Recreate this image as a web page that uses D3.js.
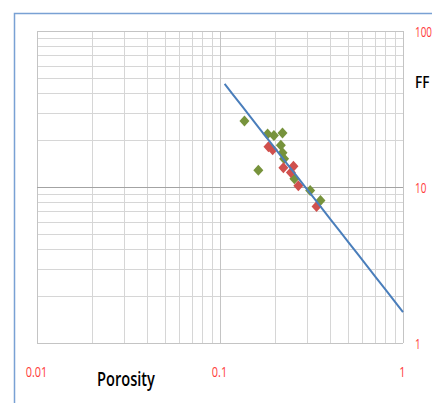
<!DOCTYPE html>
<html>
<head>
<meta charset="utf-8">
<script src="https://cdn.jsdelivr.net/npm/d3@7"></script>
<style>
  body { margin: 0; background: #fff; }
  svg { display: block; }
</style>
</head>
<body>
<svg width="432" height="403"></svg>
<script>
// data (porosity, formation factor)
var greenPorosity = [0.136, 0.182, 0.197, 0.2195, 0.215, 0.2195, 0.224, 0.162, 0.255, 0.311, 0.354];
var greenFF       = [26.5, 21.9, 21.4, 22.2, 18.5, 16.6, 15.2, 12.8, 11.3, 9.5, 8.2];
var redPorosity   = [0.184, 0.194, 0.222, 0.252, 0.244, 0.268, 0.337];
var redFF         = [18.1, 17.3, 13.3, 13.6, 12.4, 10.2, 7.5];

// power trendline FF = a * phi^-m
var trendA = 1.58, trendM = 1.5;
var trendRange = [0.106, 1];

var xTicks = [0.01, 0.1, 1];
var yTicks = [1, 10, 100];

var svg = d3.select('svg');

var x = d3.scaleLog().domain([0.01, 1]).range([37, 403]);
var y = d3.scaleLog().domain([1, 100]).range([343, 31]);

// squeeze a text horizontally (the original font is narrow)
function squeeze(sel, s, anchorX){
  sel.each(function(){
    var t = d3.select(this);
    var ax = anchorX != null ? anchorX : +t.attr('x');
    t.attr('transform', 'translate(' + ax + ',0) scale(' + s + ',1) translate(' + (-ax) + ',0)');
  });
}
function fitWidth(sel, w){
  var len = sel.node().getComputedTextLength();
  squeeze(sel, w / len);
}

// chart border (cropped)
svg.append('path')
    .attr('d', 'M14.5,420 V13.5 H440')
    .attr('fill', 'none')
    .attr('stroke', '#79a1d4')
    .attr('stroke-width', 1.5);

// minor grid
var minorX = [], minorY = [];
[0.01, 0.1].forEach(function(d){
  for (var i = 2; i < 10; i++) minorX.push(d * i);
});
[1, 10].forEach(function(d){
  for (var i = 2; i < 10; i++) minorY.push(d * i);
});

var grid = svg.append('g').attr('shape-rendering', 'crispEdges');

grid.selectAll('.vx').data(minorX).enter().append('line')
    .attr('x1', function(d){ return Math.round(x(d)) + 0.5; })
    .attr('x2', function(d){ return Math.round(x(d)) + 0.5; })
    .attr('y1', y(100)).attr('y2', y(1))
    .attr('stroke', '#d6d6d6');

grid.selectAll('.hy').data(minorY).enter().append('line')
    .attr('y1', function(d){ return Math.round(y(d)) + 0.5; })
    .attr('y2', function(d){ return Math.round(y(d)) + 0.5; })
    .attr('x1', x(0.01)).attr('x2', x(1))
    .attr('stroke', '#d6d6d6');

grid.selectAll('.mx').data(xTicks).enter().append('line')
    .attr('x1', function(d){ return Math.round(x(d)) + 0.5; })
    .attr('x2', function(d){ return Math.round(x(d)) + 0.5; })
    .attr('y1', y(100)).attr('y2', y(1))
    .attr('stroke', '#c4c4c4');

grid.selectAll('.my').data(yTicks).enter().append('line')
    .attr('y1', function(d){ return Math.round(y(d)) + 0.5; })
    .attr('y2', function(d){ return Math.round(y(d)) + 0.5; })
    .attr('x1', x(0.01)).attr('x2', x(1))
    .attr('stroke', function(d){ return d == 10 ? '#a3a3a3' : '#c4c4c4'; });

// tick labels
var xl = svg.selectAll('.xl').data(xTicks).enter().append('text')
    .attr('x', function(d){ return x(d) - 0.5; })
    .attr('y', 372)
    .attr('dy', '0.36em')
    .attr('text-anchor', 'middle')
    .attr('font-family', 'Open Sans, sans-serif')
    .attr('font-size', 14)
    .attr('fill', '#ff3b3b')
    .text(function(d){ return d; });
squeeze(xl, 0.78);

var yl = svg.selectAll('.yl').data(yTicks).enter().append('text')
    .attr('x', 415)
    .attr('y', function(d){ return y(d) + 0.5; })
    .attr('dy', '0.36em')
    .attr('font-family', 'Open Sans, sans-serif')
    .attr('font-size', 14)
    .attr('fill', '#ff3b3b')
    .text(function(d){ return d; });
squeeze(yl, 0.71, 415);

// axis titles
var ff = svg.append('text')
    .attr('x', 415).attr('y', 82).attr('dy', '0.36em')
    .attr('font-family', 'Open Sans, sans-serif')
    .attr('font-size', 17)
    .attr('font-weight', 600)
    .attr('fill', '#000')
    .text('FF');
fitWidth(ff, 14.5);

var por = svg.append('text')
    .attr('x', 97).attr('y', 379).attr('dy', '0.36em')
    .attr('font-family', 'Open Sans, sans-serif')
    .attr('font-size', 19.5)
    .attr('font-weight', 600)
    .attr('fill', '#000')
    .text('Porosity');
fitWidth(por, 58);

// markers
function diamond(px, py){
  return 'M' + px + ',' + (py - 5.5) + 'L' + (px + 5) + ',' + py +
         'L' + px + ',' + (py + 5.5) + 'L' + (px - 5) + ',' + py + 'Z';
}

var green = greenPorosity.map(function(d, i){ return [d, greenFF[i]]; });
var red = redPorosity.map(function(d, i){ return [d, redFF[i]]; });

svg.append('g').selectAll('path').data(green).enter().append('path')
    .attr('d', function(d){ return diamond(x(d[0]), y(d[1])); })
    .attr('fill', '#77933c');

svg.append('g').selectAll('path').data(red).enter().append('path')
    .attr('d', function(d){ return diamond(x(d[0]), y(d[1])); })
    .attr('fill', '#d0504d');

// trendline
var trend = d3.range(0, 21).map(function(i){
  var phi = Math.pow(10, Math.log10(trendRange[0]) + (Math.log10(trendRange[1]) - Math.log10(trendRange[0])) * i / 20);
  return [phi, trendA * Math.pow(phi, -trendM)];
});

svg.append('path')
    .datum(trend)
    .attr('d', d3.line().x(function(d){ return x(d[0]); }).y(function(d){ return y(d[1]); }))
    .attr('fill', 'none')
    .attr('stroke', '#4a7ebb')
    .attr('stroke-width', 2);
</script>
</body>
</html>
